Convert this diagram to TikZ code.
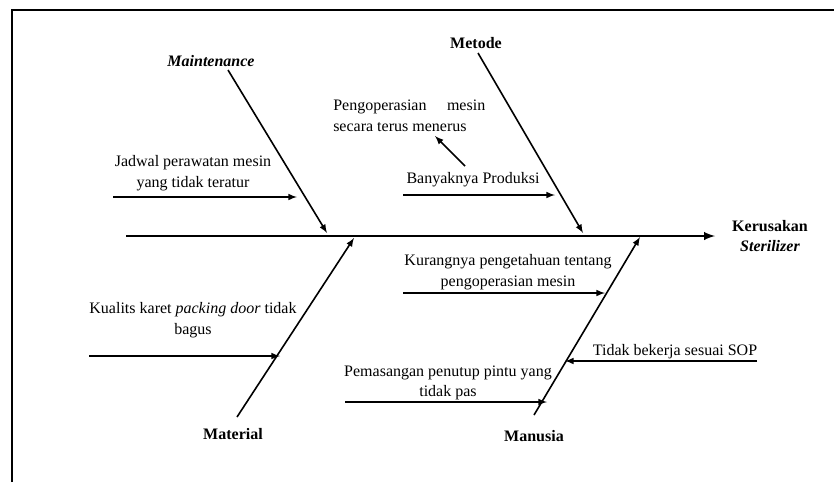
\documentclass[tikz,border=0pt]{standalone}
\usepackage{fontspec}
\setmainfont{Liberation Serif}
\usepackage{tikz}

\begin{document}
\begin{tikzpicture}[x=0.75pt,y=-0.75pt,>=latex,
  font=\fontsize{12}{15.4}\selectfont,
  txt/.style={inner sep=0pt,align=center},
  cat/.style={inner sep=0pt,align=center,font=\fontsize{12}{15.4}\selectfont\bfseries},
  bone/.style={->,line width=1.2pt}]

\useasboundingbox (0,0) rectangle (834,482);

\draw [line width=1.5pt] (12,482) -- (12,10) -- (834,10);

\coordinate (tail) at (126,236);
\coordinate (tip) at (715,236);
\node [cat] (head) at (770,236) {Kerusakan\\\textit{Sterilizer}};
\draw [->,line width=1.8pt] (tail) -- (tip);

\node [cat] (maint) at (211,61) {\textit{Maintenance}};
\coordinate (maint-s) at (228,70);
\coordinate (maint-e) at (327,233);
\draw [bone] (maint-s) -- (maint-e);

\node [cat] (metode) at (476,43) {Metode};
\coordinate (metode-s) at (478,53);
\coordinate (metode-e) at (583,233);
\draw [bone] (metode-s) -- (metode-e);

\node [cat] (material) at (233,434) {Material};
\coordinate (material-s) at (237,417);
\coordinate (material-e) at (354,238);
\draw [bone] (material-s) -- (material-e);

\node [cat] (manusia) at (534,436) {Manusia};
\coordinate (manusia-s) at (534,415);
\coordinate (manusia-e) at (640,237);
\draw [bone] (manusia-s) -- (manusia-e);

\node [txt] (jadwal) at (193,173) {Jadwal perawatan mesin\\yang tidak teratur};
\coordinate (jadwal-s) at (113,197);
\coordinate (jadwal-e) at (297,197);
\draw [bone] (jadwal-s) -- (jadwal-e);

\node [txt] (banyak) at (473,180) {Banyaknya Produksi};
\coordinate (banyak-s) at (403,195);
\coordinate (banyak-e) at (555,195);
\draw [bone] (banyak-s) -- (banyak-e);

\node [txt,align=left,anchor=west] (operasi) at (333,116) {\makebox[114pt][s]{Pengoperasian mesin}\\secara terus menerus};
\coordinate (operasi-s) at (465,166);
\coordinate (operasi-e) at (435,136);
\draw [bone] (operasi-s) -- (operasi-e);

\node [txt] (kurang) at (508,272) {Kurangnya pengetahuan tentang\\pengoperasian mesin};
\coordinate (kurang-s) at (403,293);
\coordinate (kurang-e) at (605,293);
\draw [bone] (kurang-s) -- (kurang-e);

\node [txt] (kualits) at (193,320) {Kualits karet \textit{packing door} tidak\\bagus};
\coordinate (kualits-s) at (89,356);
\coordinate (kualits-e) at (280,356);
\draw [bone] (kualits-s) -- (kualits-e);

\node [txt] (sop) at (675,352) {Tidak bekerja sesuai SOP};
\coordinate (sop-s) at (757,361);
\coordinate (sop-e) at (565,361);
\draw [bone] (sop-s) -- (sop-e);

\node [txt] (pasang) at (448,383) {Pemasangan penutup pintu yang\\tidak pas};
\coordinate (pasang-s) at (345,402);
\coordinate (pasang-e) at (547,402);
\draw [bone] (pasang-s) -- (pasang-e);

\end{tikzpicture}
\end{document}
